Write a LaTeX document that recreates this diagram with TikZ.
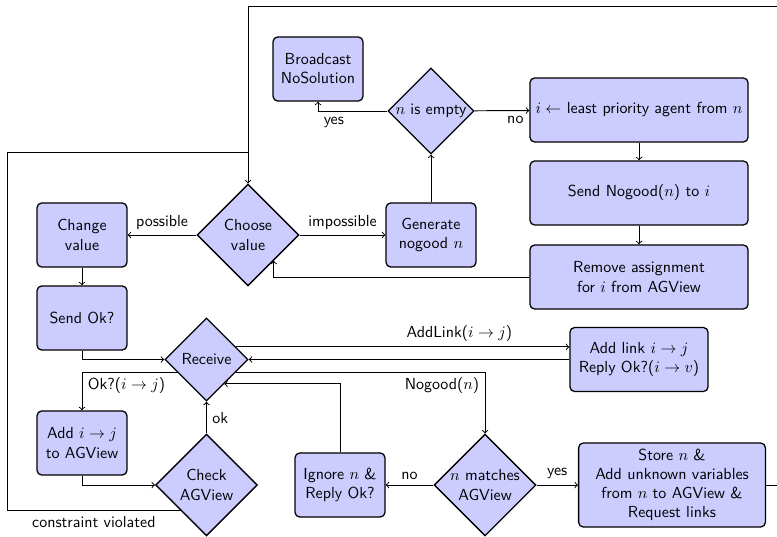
\documentclass[tikz,border=0pt]{standalone}
\usepackage{amsmath}
\usepackage{amssymb}
\usepackage{tikz}
\usetikzlibrary{shapes.geometric}

\tikzset{
  box/.style={draw, thick, rounded corners=3pt, fill=blue!20, align=center, minimum width=1.98cm, minimum height=1.41cm},
  decision/.style={draw, thick, diamond, aspect=1, inner sep=0pt, fill=blue!20, align=center},
  flow/.style={semithick},
}

\begin{document}
\begin{tikzpicture}[x=0.022cm, y=-0.022cm, font=\sffamily]
\clip (0,0) rectangle (777,536);
\node[box] (bcast) at (318,69) {Broadcast\\NoSolution};
\node[decision, minimum size=1.89cm] (empty) at (431,111) {$n$ is empty};
\node[box, minimum width=4.8cm] (least) at (639,110) {$i \leftarrow$ least priority agent from $n$};
\node[box, minimum width=4.8cm] (sendng) at (639,193) {Send Nogood($n$) to $i$};
\node[box, minimum width=4.8cm] (remove) at (639,277) {Remove assignment\\for $i$ from AGView};
\node[box] (gen) at (431,235) {Generate\\nogood $n$};
\node[decision, minimum size=2.24cm] (choose) at (248,235) {Choose\\value};
\node[box] (change) at (82,235) {Change\\value};
\node[box] (sendok) at (82,318) {Send Ok?};
\node[decision, minimum size=1.83cm] (recv) at (206.5,359.5) {Receive};
\node[box, minimum width=3.04cm] (addlink) at (639,359.5) {Add link $i \rightarrow j$\\Reply Ok?($i \rightarrow v$)};
\node[box] (addij) at (82,443) {Add $i \rightarrow j$\\to AGView};
\node[decision, minimum size=2.24cm] (check) at (206.5,485) {Check\\AGView};
\node[box] (ignore) at (340,485) {Ignore $n$ \&\\Reply Ok?};
\node[decision, minimum size=2.24cm] (nmatch) at (485,485) {$n$ matches\\AGView};
\node[box, minimum width=4.11cm, minimum height=1.85cm] (store) at (672,485) {Store $n$ \&\\Add unknown variables\\from $n$ to AGView \&\\Request links};

\coordinate (farright) at (800,6);
\coordinate (farleft) at (7,152);

% choosing a value
\draw[flow,->] (choose) -- node[above] {possible} (change);
\draw[flow,->] (choose) -- node[above] {impossible} (gen);
\draw[flow,->] (gen) -- (empty);
\draw[flow,->] (empty) -| node[pos=0.5, below right] {yes} (bcast);
\draw[flow,->] (empty) -- node[pos=1, below left] {no} (least);
\draw[flow,->] (least) -- (sendng);
\draw[flow,->] (sendng) -- (remove);
\draw[flow,->] (remove) -| (choose.south east);
\draw[flow,->] (change) -- (sendok);
\draw[flow,->] (sendok) |- (recv);

% receiving messages
\draw[flow,->] (recv.23) -- node[pos=0.67, above] {AddLink($i \rightarrow j$)} (recv.23 -| addlink.west);
\draw[flow,->] (addlink.west) -- (recv.east);
\draw[flow,->] (recv.-23) -| node[pos=0.5, below left] {Nogood($n$)} (nmatch);
\draw[flow,->] (recv.203) -| node[pos=0.5, below right] {Ok?($i \rightarrow j$)} (addij);
\draw[flow,->] (addij) |- (check);
\draw[flow,->] (check) -- node[right] {ok} (recv);
\draw[flow,->] (ignore) |- (recv.306);
\draw[flow,->] (nmatch) -- node[above] {no} (ignore);
\draw[flow,->] (nmatch) -- node[above] {yes} (store);

% loops back
\draw[flow,->] (store) -| (farright) -| (choose);
\draw[flow] (check.south west) -| node[pos=0.25, below] {constraint violated} (farleft) -- (farleft -| choose.north);
\end{tikzpicture}
\end{document}
